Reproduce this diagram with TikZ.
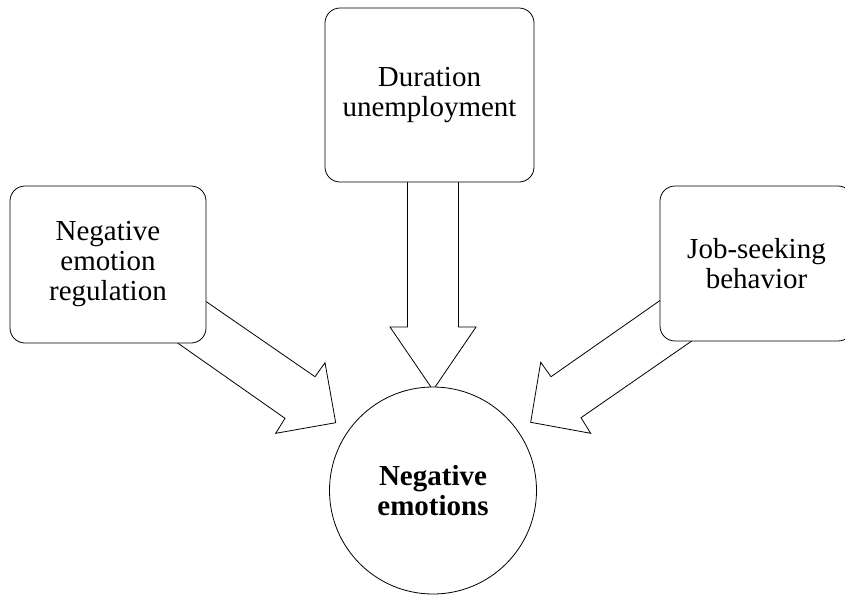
\documentclass[tikz,border=0pt]{standalone}
\usepackage{fontspec}
\setmainfont{Liberation Serif}
\begin{document}
\begin{tikzpicture}[x=1pt,y=-1pt,
  factor/.style={draw,line width=0.8pt,fill=white,rounded corners=15pt,
    align=center,inner sep=0pt,font=\fontsize{29}{30}\selectfont},
  outcome/.style={draw,line width=0.8pt,fill=white,circle,inner sep=0pt,
    align=center,font=\fontsize{29}{30}\selectfont\bfseries},
  blockarrow/.style={draw,line width=0.8pt,fill=white,line join=miter}]
\useasboundingbox (0,0) rectangle (845,595);

% block arrows (tails tucked under the boxes)
\draw[blockarrow] (407.5,170) -- (407.5,327) -- (390,327) -- (433,390)
  -- (476,327) -- (458.5,327) -- (458.5,170) -- cycle;
\draw[blockarrow] (181.4,284.5) -- (315,376.7) -- (325,362.7) -- (335.7,422.7)
  -- (275.7,433.3) -- (285,418.3) -- (152.1,325.1) -- cycle;
\draw[blockarrow] (683.9,283.8) -- (551,376.7) -- (540.7,362.3) -- (530.7,422.3)
  -- (590.7,433.3) -- (581,417.7) -- (704.6,332.1) -- cycle;

% factor boxes
\node[factor,minimum width=196pt,minimum height=157pt] (reg) at (108,264.5)
  {Negative\\emotion\\regulation};
\node[factor,minimum width=209pt,minimum height=174pt] (dur) at (429.5,95)
  {Duration\\unemployment};
\node[factor,minimum width=193pt,minimum height=155pt] (job) at (756.5,263.5)
  {Job-seeking\\behavior};

% outcome
\node[outcome,minimum size=207pt] (neg) at (433,490.5) {Negative\\emotions};
\end{tikzpicture}
\end{document}
